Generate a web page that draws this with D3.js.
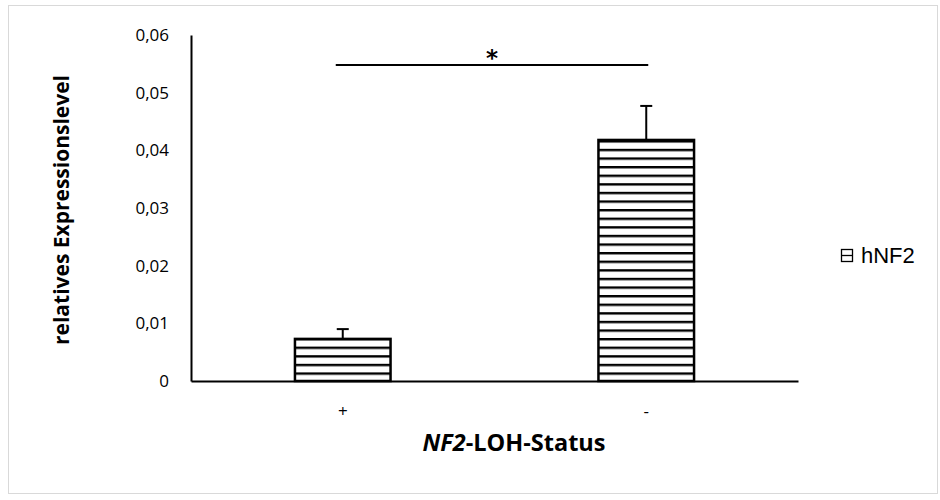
<!DOCTYPE html>
<html>
<head>
<meta charset="utf-8">
<script src="https://cdn.jsdelivr.net/npm/d3@7.9.0/dist/d3.min.js"></script>
<style>
  body { margin: 0; background: #fff; }
  svg { display: block; }
</style>
</head>
<body>
<svg id="chart" width="940" height="500"></svg>
<script>
// data
const categories = ['+', '-'];
const values = [0.0073, 0.0418];
const errors = [0.0017, 0.0059];
const yTicks = [0, 0.01, 0.02, 0.03, 0.04, 0.05, 0.06];
const seriesName = 'hNF2';

const svg = d3.select('#chart');

// outer frame
svg.append('rect')
  .attr('x', 8.5).attr('y', 5.5)
  .attr('width', 929).attr('height', 488)
  .attr('fill', '#fff').attr('stroke', '#d9d9d9').attr('stroke-width', 1);

const defs = svg.append('defs');
defs.append('pattern')
  .attr('id', 'hstripe')
  .attr('patternUnits', 'userSpaceOnUse')
  .attr('width', 8).attr('height', 8.6)
  .attr('y', 381)
  .append('rect')
  .attr('x', 0).attr('y', 0).attr('width', 8).attr('height', 2.4)
  .attr('fill', '#000');

const x = d3.scaleBand().domain(categories).range([191, 798]).paddingInner(0.685).paddingOuter(0.3425);
const y = d3.scaleLinear().domain([0, 0.06]).range([381, 35]);

const fmt = d => d === 0 ? '0' : d3.format('.2f')(d).replace('.', ',');

// y axis
const yAxis = svg.append('g')
  .attr('transform', 'translate(191,0)')
  .call(d3.axisLeft(y).tickValues(yTicks).tickSize(0).tickPadding(22).tickFormat(fmt));
yAxis.select('.domain').attr('stroke', '#000').attr('stroke-width', 2);
yAxis.selectAll('text')
  .attr('font-family', 'Open Sans, sans-serif')
  .attr('font-size', 17).attr('fill', '#000');

// bars
svg.append('g').selectAll('rect')
  .data(values)
  .join('rect')
  .attr('x', (d, i) => x(categories[i]))
  .attr('y', d => y(d))
  .attr('width', x.bandwidth())
  .attr('height', d => y(0) - y(d))
  .attr('fill', 'url(#hstripe)')
  .attr('stroke', '#000').attr('stroke-width', 2.5);

// error bars
const eb = svg.append('g').attr('stroke', '#000').attr('stroke-width', 2);
values.forEach((v, i) => {
  const cx = x(categories[i]) + x.bandwidth() / 2;
  eb.append('line').attr('x1', cx).attr('x2', cx).attr('y1', y(v)).attr('y2', y(v + errors[i]));
  eb.append('line').attr('x1', cx - 6).attr('x2', cx + 6).attr('y1', y(v + errors[i])).attr('y2', y(v + errors[i]));
});

// x axis
const xAxis = svg.append('g')
  .attr('transform', 'translate(0,381)')
  .call(d3.axisBottom(x).tickSize(0).tickPadding(24));
xAxis.select('.domain').attr('stroke', '#000').attr('stroke-width', 2);
xAxis.selectAll('text')
  .attr('font-family', 'Open Sans, sans-serif')
  .attr('font-size', 17).attr('fill', '#000');

// significance
const c0 = x(categories[0]) + x.bandwidth() / 2 - 7;
const c1 = x(categories[1]) + x.bandwidth() / 2 + 2;
svg.append('line')
  .attr('x1', c0).attr('x2', c1).attr('y1', 65).attr('y2', 65)
  .attr('stroke', '#000').attr('stroke-width', 2);
svg.append('text')
  .attr('x', (c0 + c1) / 2).attr('y', 66)
  .attr('text-anchor', 'middle')
  .attr('font-family', 'DejaVu Sans, sans-serif').attr('font-weight', 'bold')
  .attr('font-size', 23).text('*');

// axis titles
const xt = svg.append('text')
  .attr('x', 514).attr('y', 451)
  .attr('text-anchor', 'middle')
  .attr('font-family', 'Open Sans, sans-serif').attr('font-weight', 700)
  .attr('font-size', 23.5).attr('fill', '#000');
xt.append('tspan').attr('font-style', 'italic').text('NF2');
xt.append('tspan').text('-LOH-Status');

svg.append('text')
  .attr('transform', 'translate(69,210) rotate(-90)')
  .attr('text-anchor', 'middle')
  .attr('font-family', 'Open Sans, sans-serif').attr('font-weight', 700)
  .attr('font-size', 21).attr('fill', '#000')
  .text('relatives Expressionslevel');

// legend
const lg = svg.append('g').attr('transform', 'translate(841,249)');
lg.append('rect').attr('x', 0.5).attr('y', 0.5).attr('width', 11).attr('height', 12)
  .attr('fill', '#fff').attr('stroke', '#000').attr('stroke-width', 1.3);
lg.append('line').attr('x1', 0.5).attr('x2', 11.5).attr('y1', 6.5).attr('y2', 6.5)
  .attr('stroke', '#000').attr('stroke-width', 1.3);
lg.append('text').attr('x', 20).attr('y', 13.5)
  .attr('font-family', 'Liberation Sans, Arial, sans-serif')
  .attr('font-size', 22).attr('fill', '#000').text(seriesName);
</script>
</body>
</html>
